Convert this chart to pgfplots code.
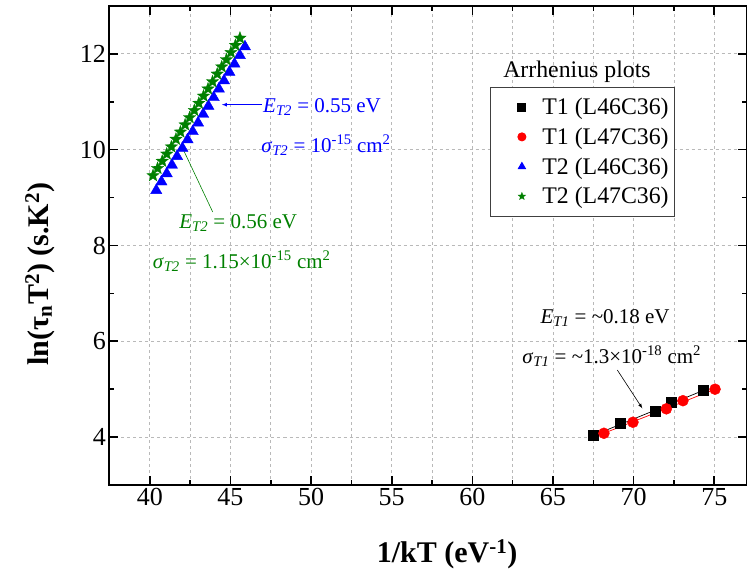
\documentclass[border=0pt]{standalone}
\usepackage{fontspec}
\setmainfont{Liberation Serif}
\usepackage{pgfplots}
\pgfplotsset{compat=1.18}
\definecolor{dgreen}{RGB}{0,128,0}
\newcommand{\sub}[1]{\textsubscript{\textit{#1}}}
\newcommand{\annfont}{\fontsize{21}{25}\selectfont}
\newcommand{\legfont}{\fontsize{23.8}{27}\selectfont}
\pgfdeclareplotmark{fstar}{%
  \pgfpathmoveto{\pgfqpointpolar{90}{\pgfplotmarksize}}%
  \pgfpathlineto{\pgfqpointpolar{126}{0.42\pgfplotmarksize}}%
  \pgfpathlineto{\pgfqpointpolar{162}{\pgfplotmarksize}}%
  \pgfpathlineto{\pgfqpointpolar{198}{0.42\pgfplotmarksize}}%
  \pgfpathlineto{\pgfqpointpolar{234}{\pgfplotmarksize}}%
  \pgfpathlineto{\pgfqpointpolar{270}{0.42\pgfplotmarksize}}%
  \pgfpathlineto{\pgfqpointpolar{306}{\pgfplotmarksize}}%
  \pgfpathlineto{\pgfqpointpolar{342}{0.42\pgfplotmarksize}}%
  \pgfpathlineto{\pgfqpointpolar{18}{\pgfplotmarksize}}%
  \pgfpathlineto{\pgfqpointpolar{54}{0.42\pgfplotmarksize}}%
  \pgfpathclose
  \pgfusepathqfillstroke}
\pgfplotsset{lgimg/.style={legend image code/.code={%
  \path (0pt,0pt) (45pt,0pt);
  \draw[##1, mark size=4pt] plot coordinates {(27pt,0pt)};}}}
\begin{document}
\begin{tikzpicture}
\begin{axis}[
  scale only axis,
  width=637pt, height=479pt,
  xmin=37.5, xmax=77, ymin=3, ymax=13,
  xtick={40,45,...,75}, minor x tick num=1,
  xticklabels={40,45,50,55,60,65,70,75},
  ytick={4,6,...,12}, minor y tick num=1,
  yticklabels={4,6,8,10,12},
  tick align=inside,
  major tick length=9pt, minor tick length=5pt,
  every tick/.style={black, line width=1.6pt},
  axis line style={line width=2pt},
  xmajorgrids, xminorgrids, ymajorgrids,
  major grid style={dashed, gray!55, line width=0.8pt},
  minor grid style={dashed, gray!55, line width=0.8pt},
  ticklabel style={font=\fontsize{26}{30}\selectfont\rmfamily},
  xlabel={\bfseries 1/kT (eV\textsuperscript{-1})},
  ylabel={\bfseries ln(τ\textsubscript{n}T\textsuperscript{2}) (s.K\textsuperscript{2})},
  xlabel style={font=\fontsize{30}{34}\selectfont, at={(axis description cs:0.53,-0.162)}, anchor=base},
  ylabel style={font=\fontsize{30}{34}\selectfont, at={(axis description cs:-0.0965,0.4395)}, anchor=base, rotate=0},
  legend style={at={(0.888,0.8316)}, anchor=north east, draw=darkgray, line width=1pt,
    font=\legfont, inner xsep=4pt, inner ysep=9pt, row sep=7.7pt,
    cells={anchor=west, inner xsep=2pt, inner ysep=2pt}},
]
% fit lines
\addplot[black, line width=0.7pt, forget plot] coordinates {(67.47,4.03) (74.29,4.97)};
\addplot[red, line width=0.7pt, forget plot] coordinates {(68.16,4.08) (75.05,5.00)};

\addplot[only marks, mark=square*, mark size=5pt, black, lgimg] coordinates {
(67.47,4.03) (69.19,4.29) (71.32,4.55) (72.34,4.72) (74.29,4.97)};
\addlegendentry{T1 (L46C36)}
\addplot[only marks, mark=*, mark size=5.5pt, red, lgimg] coordinates {
(68.16,4.08) (69.96,4.31) (72.03,4.59) (73.06,4.76) (75.05,5.00)};
\addlegendentry{T1 (L47C36)}
\addplot[only marks, mark=triangle*, mark size=6.5pt, blue, lgimg] coordinates {
(40.40,9.15) (40.72,9.33) (41.05,9.50) (41.37,9.68) (41.69,9.86) (42.02,10.03)
(42.34,10.21) (42.66,10.38) (42.99,10.56) (43.31,10.74) (43.63,10.91) (43.96,11.09)
(44.28,11.27) (44.60,11.44) (44.93,11.62) (45.25,11.79) (45.58,11.97) (45.90,12.15)};
\addlegendentry{T2 (L46C36)}
\addplot[only marks, mark=fstar, mark size=6.5pt, dgreen, line width=0.3pt, mark options={fill=dgreen}, lgimg] coordinates {
(40.20,9.46) (40.48,9.61) (40.77,9.76) (41.05,9.91) (41.34,10.06) (41.62,10.22)
(41.90,10.37) (42.19,10.52) (42.47,10.67) (42.76,10.82) (43.04,10.97) (43.33,11.12)
(43.61,11.27) (43.89,11.42) (44.18,11.58) (44.46,11.73) (44.75,11.88) (45.03,12.03)
(45.31,12.18) (45.59,12.33)};
\addlegendentry{T2 (L47C36)}

% annotations
\node[anchor=base, font=\legfont] at (axis cs:66.49,11.51) {Arrhenius plots};

\draw[blue, line width=0.7pt, -latex] (axis cs:46.96,10.94) -- (axis cs:44.47,10.94);
\node[anchor=base west, inner sep=0pt, text=blue, font=\annfont] at (axis cs:47.02,10.78)
  {\textit{E}\sub{T2} = 0.55 eV};
\node[anchor=base west, inner sep=0pt, text=blue, font=\annfont] at (axis cs:46.90,9.95)
  {\textit{σ}\sub{T2} = 10\textsuperscript{-15} cm\textsuperscript{2}};

\draw[dgreen, line width=0.6pt] (axis cs:42.05,10.02) -- (axis cs:43.90,8.70);
\node[anchor=base west, inner sep=0pt, text=dgreen, font=\annfont] at (axis cs:41.82,8.354)
  {\textit{E}\sub{T2} = 0.56 eV};
\node[anchor=base west, inner sep=0pt, text=dgreen, font=\annfont] at (axis cs:40.17,7.527)
  {\textit{σ}\sub{T2} = 1.15×10\textsuperscript{-15} cm\textsuperscript{2}};

\draw[black, line width=0.6pt, -latex] (axis cs:68.99,5.40) -- (axis cs:70.54,4.60);
\node[anchor=base west, inner sep=0pt, font=\annfont] at (axis cs:64.22,6.375)
  {\textit{E}\sub{T1} = \textasciitilde 0.18 eV};
\node[anchor=base west, inner sep=0pt, font=\annfont] at (axis cs:63.09,5.54)
  {\textit{σ}\sub{T1} = \textasciitilde 1.3×10\textsuperscript{-18} cm\textsuperscript{2}};
\end{axis}
\pgfresetboundingbox
\path[use as bounding box] ([shift={(-109.5pt,-87pt)}]current axis.south west) rectangle ([shift={(0.5pt,6pt)}]current axis.north east);
\end{tikzpicture}
\end{document}
